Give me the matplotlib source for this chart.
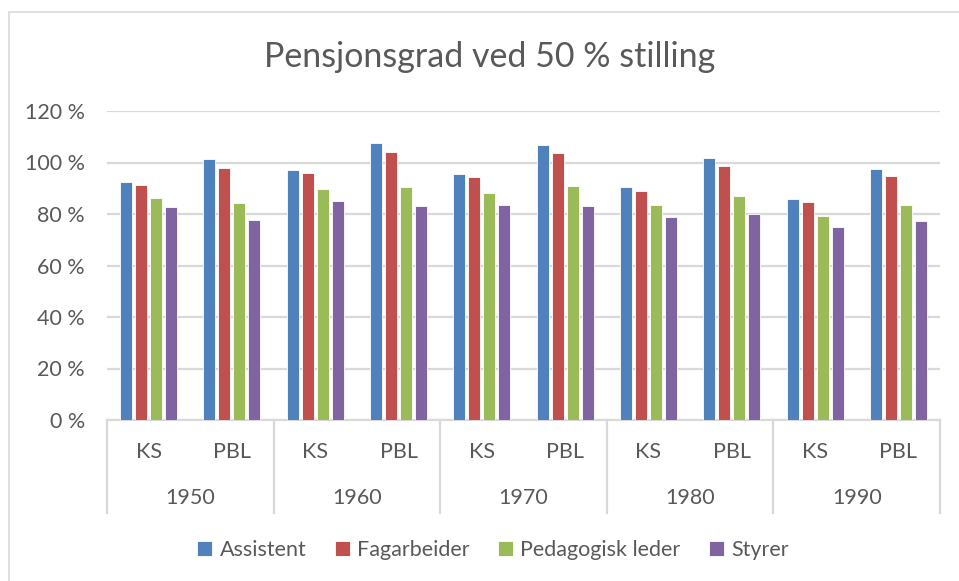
import matplotlib.pyplot as plt
import numpy as np
from matplotlib.patches import Rectangle
from matplotlib.transforms import blended_transform_factory

plt.rcParams['font.family'] = ['Lato', 'DejaVu Sans']

years = ['1950', '1960', '1970', '1980', '1990']
schemes = ['KS', 'PBL']
series = ['Assistent', 'Fagarbeider', 'Pedagogisk leder', 'Styrer']
colors = ['#4F81BD', '#C0504D', '#9BBB59', '#8064A2']

# order: 1950 KS, 1950 PBL, 1960 KS, ...
assistent = [92.6, 101.4, 97.2, 107.4, 95.6, 106.8, 90.4, 101.7, 85.9, 97.5]
fagarbeider = [91.2, 97.9, 95.9, 104.0, 94.2, 103.5, 89.0, 98.7, 84.5, 94.7]
pedagogisk = [86.3, 84.3, 89.9, 90.5, 88.1, 90.7, 83.4, 86.8, 79.3, 83.4]
styrer = [82.8, 77.6, 85.1, 83.2, 83.4, 83.2, 79.0, 79.9, 74.8, 77.1]
values = [assistent, fagarbeider, pedagogisk, styrer]

text_col = '#595959'
grid_col = '#D9D9D9'
W, H = 959, 581
fs = 15.5

fig = plt.figure(figsize=(W / 100, H / 100), dpi=100)
fig.patches.append(Rectangle((8.5 / W, -0.1), 2, (H - 12.5) / H + 0.1,
                             transform=fig.transFigure, fill=False,
                             edgecolor=grid_col, lw=1.2))

ax = fig.add_axes([107 / W, (H - 420) / H, (940 - 107) / W, (420 - 111) / H])
x = np.arange(len(assistent))
step, width = 0.18, 0.145
for i, (name, vals) in enumerate(zip(series, values)):
    ax.bar(x + (i - 1.5) * step, vals, width, color=colors[i], label=name,
           edgecolor='white', linewidth=0.6, zorder=3)

ax.set_xlim(-0.5, len(x) - 0.5)
ax.set_ylim(0, 120)
ax.set_yticks(range(0, 121, 20))
ax.set_yticklabels([f'{v} %' for v in range(0, 121, 20)])
ax.tick_params(axis='y', length=0, pad=16, labelsize=fs, labelcolor=text_col)
ax.set_xticks([])
ax.grid(axis='y', color=grid_col, lw=1.6, zorder=0)
for s in ['top', 'right', 'left']:
    ax.spines[s].set_visible(False)
ax.spines['bottom'].set_color(grid_col)
ax.spines['bottom'].set_linewidth(1.6)

# two-level category axis
trans = blended_transform_factory(ax.transData, ax.transAxes)
ah = 420 - 111
for k in range(len(x)):
    ax.text(k, -(452 - 420) / ah, schemes[k % 2], transform=trans,
            ha='center', va='center', fontsize=fs, color=text_col)
for g, yr in enumerate(years):
    ax.text(2 * g + 0.5, -(498 - 420) / ah, yr, transform=trans,
            ha='center', va='center', fontsize=fs, color=text_col)
for b in np.arange(-0.5, len(x), 2):
    ax.plot([b, b], [0, -(513 - 420) / ah], transform=trans, color=grid_col,
            lw=1.6, clip_on=False)

fig.text(489.5 / W, (H - 57) / H, 'Pensjonsgrad ved 50 % stilling',
         ha='center', va='center', fontsize=24.5, color=text_col)

fig.legend(loc='center', bbox_to_anchor=(493 / W, (H - 550) / H), ncol=4,
           frameon=False, fontsize=fs, handlelength=0.7, handleheight=0.7,
           handletextpad=0.35, columnspacing=1.3, labelcolor=text_col)

fig.savefig('out.png', dpi=100)
